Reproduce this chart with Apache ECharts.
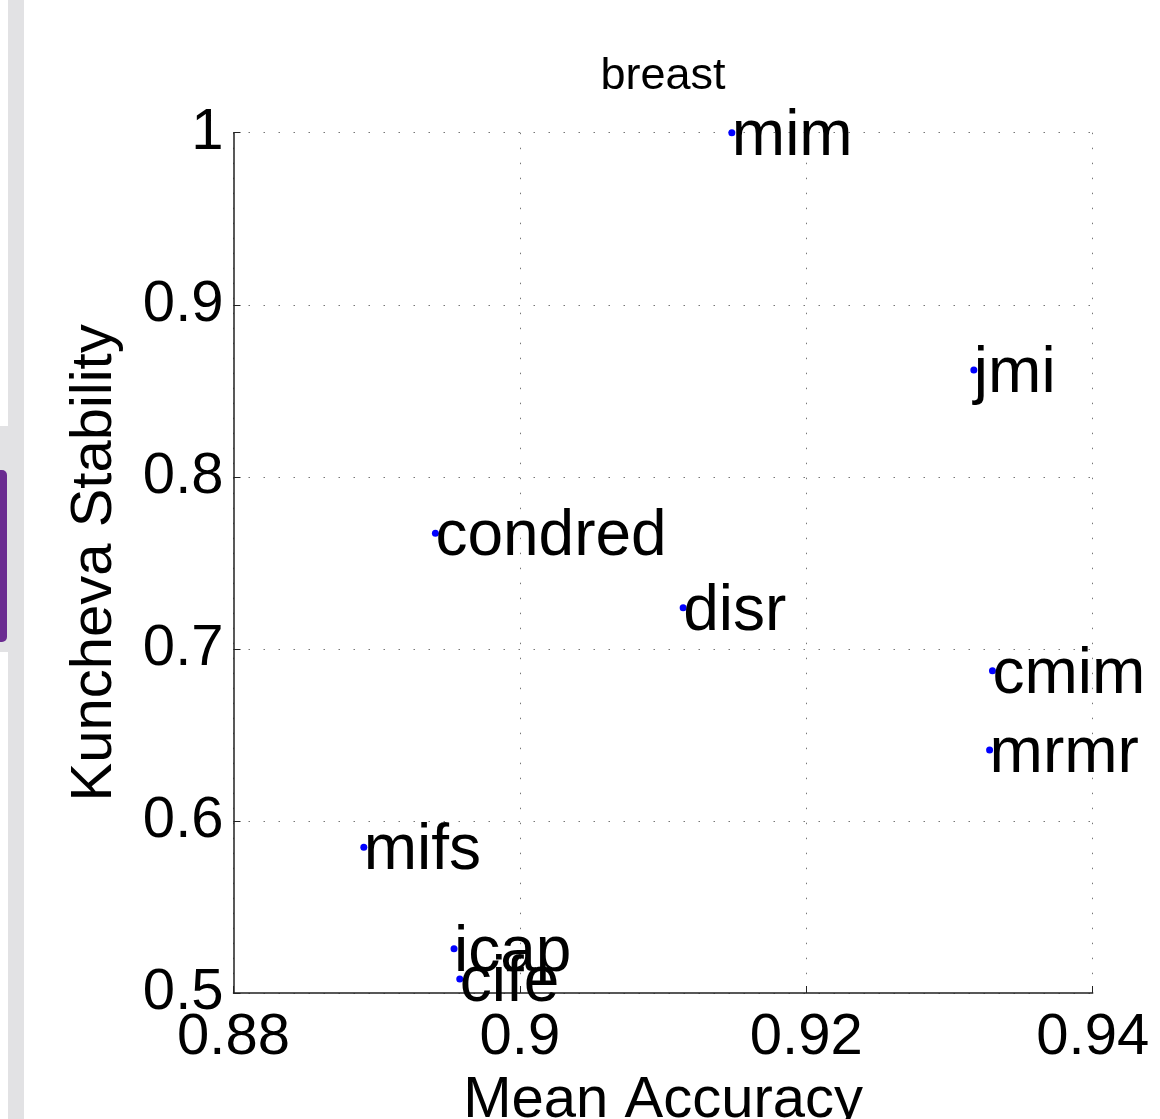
<!DOCTYPE html>
<html>
<head>
<meta charset="utf-8">
<script src="https://cdn.jsdelivr.net/npm/echarts@6/dist/echarts.min.js"></script>
<style>
html,body{margin:0;padding:0;background:#fff;overflow:hidden;width:1160px;height:1119px;}
#chart{position:absolute;left:0;top:0;width:1160px;height:1119px;}
</style>
</head>
<body>
<div id="chart"></div>
<script>
// Data
const methods   = ['mim', 'jmi', 'condred', 'disr', 'cmim', 'mrmr', 'mifs', 'icap', 'cife'];
const accuracy  = [0.9148, 0.9317, 0.8941, 0.9114, 0.9330, 0.9328, 0.8891, 0.8954, 0.8958];
const stability = [1.0, 0.8621, 0.7672, 0.7239, 0.6873, 0.6412, 0.5847, 0.5257, 0.5081];
const xTickLabels = ['0.88', '0.9', '0.92', '0.94'];
const yTickLabels = ['0.5', '0.6', '0.7', '0.8', '0.9', '1'];
const titleText = 'breast';
const xName = 'Mean Accuracy';
const yName = 'Kuncheva Stability';

const FONT = '"Liberation Sans", Arial, Helvetica, sans-serif';
const chart = echarts.init(document.getElementById('chart'), null, {renderer: 'canvas', width: 1160, height: 1119});

const points = methods.map((m, i) => ({name: m, value: [accuracy[i], stability[i]]}));

const gridLine = {show: true, lineStyle: {color: '#777', width: 1, type: [1.5, 13.5]}};

chart.setOption({
  backgroundColor: '#fff',
  animation: false,
  title: {
    text: titleText,
    left: 663, top: 54, textAlign: 'center', padding: 0,
    textStyle: {fontFamily: FONT, fontSize: 45, fontWeight: 'normal', color: '#000'}
  },
  grid: {left: 233.5, right: 67.3, top: 132.7, bottom: 126, containLabel: false, outerBoundsMode: 'none'},
  xAxis: {
    type: 'value', min: 0.88, max: 0.94, interval: 0.02,
    name: xName, nameLocation: 'middle', nameGap: 75,
    nameTextStyle: {fontFamily: FONT, fontSize: 58, color: '#000'},
    axisLine: {show: true, onZero: false, lineStyle: {color: '#222', width: 1.5}},
    axisTick: {show: true, inside: true, length: 7, lineStyle: {color: '#222', width: 1}},
    axisLabel: {
      margin: 16, fontFamily: FONT, fontSize: 58, color: '#000',
      formatter: v => xTickLabels[Math.round((v - 0.88) / 0.02)]
    },
    splitLine: gridLine
  },
  yAxis: {
    type: 'value', min: 0.5, max: 1, interval: 0.1,
    name: yName, nameLocation: 'middle', nameGap: 110, nameRotate: 90,
    nameTextStyle: {fontFamily: FONT, fontSize: 58, color: '#000'},
    axisLine: {show: true, onZero: false, lineStyle: {color: '#222', width: 1.5}},
    axisTick: {show: true, inside: true, length: 7, lineStyle: {color: '#222', width: 1}},
    axisLabel: {
      margin: 10, fontFamily: FONT, fontSize: 58, color: '#000',
      formatter: v => yTickLabels[Math.round((v - 0.5) / 0.1)]
    },
    splitLine: gridLine
  },
  series: [{
    type: 'scatter',
    data: points,
    symbol: 'circle',
    symbolSize: 7,
    clip: false,
    itemStyle: {color: '#0000ff', opacity: 1},
    label: {
      show: true,
      formatter: p => p.name,
      position: [3.5, 8],
      align: 'left',
      verticalAlign: 'middle',
      fontFamily: FONT, fontSize: 64, color: '#000', opacity: 1
    },
    labelLayout: {hideOverlap: false},
    emphasis: {disabled: true}
  }],
  graphic: [
    {type: 'rect', shape: {x: 8, y: 0, width: 16, height: 1119}, style: {fill: '#e2e2e4'}, silent: true},
    {type: 'rect', shape: {x: 0, y: 426, width: 10, height: 226}, style: {fill: '#e2e2e4'}, silent: true},
    {type: 'rect', shape: {x: 0, y: 470, width: 7, height: 172, r: [0, 5, 5, 0]}, style: {fill: '#6b2c91'}, silent: true}
  ]
});
</script>
</body>
</html>
